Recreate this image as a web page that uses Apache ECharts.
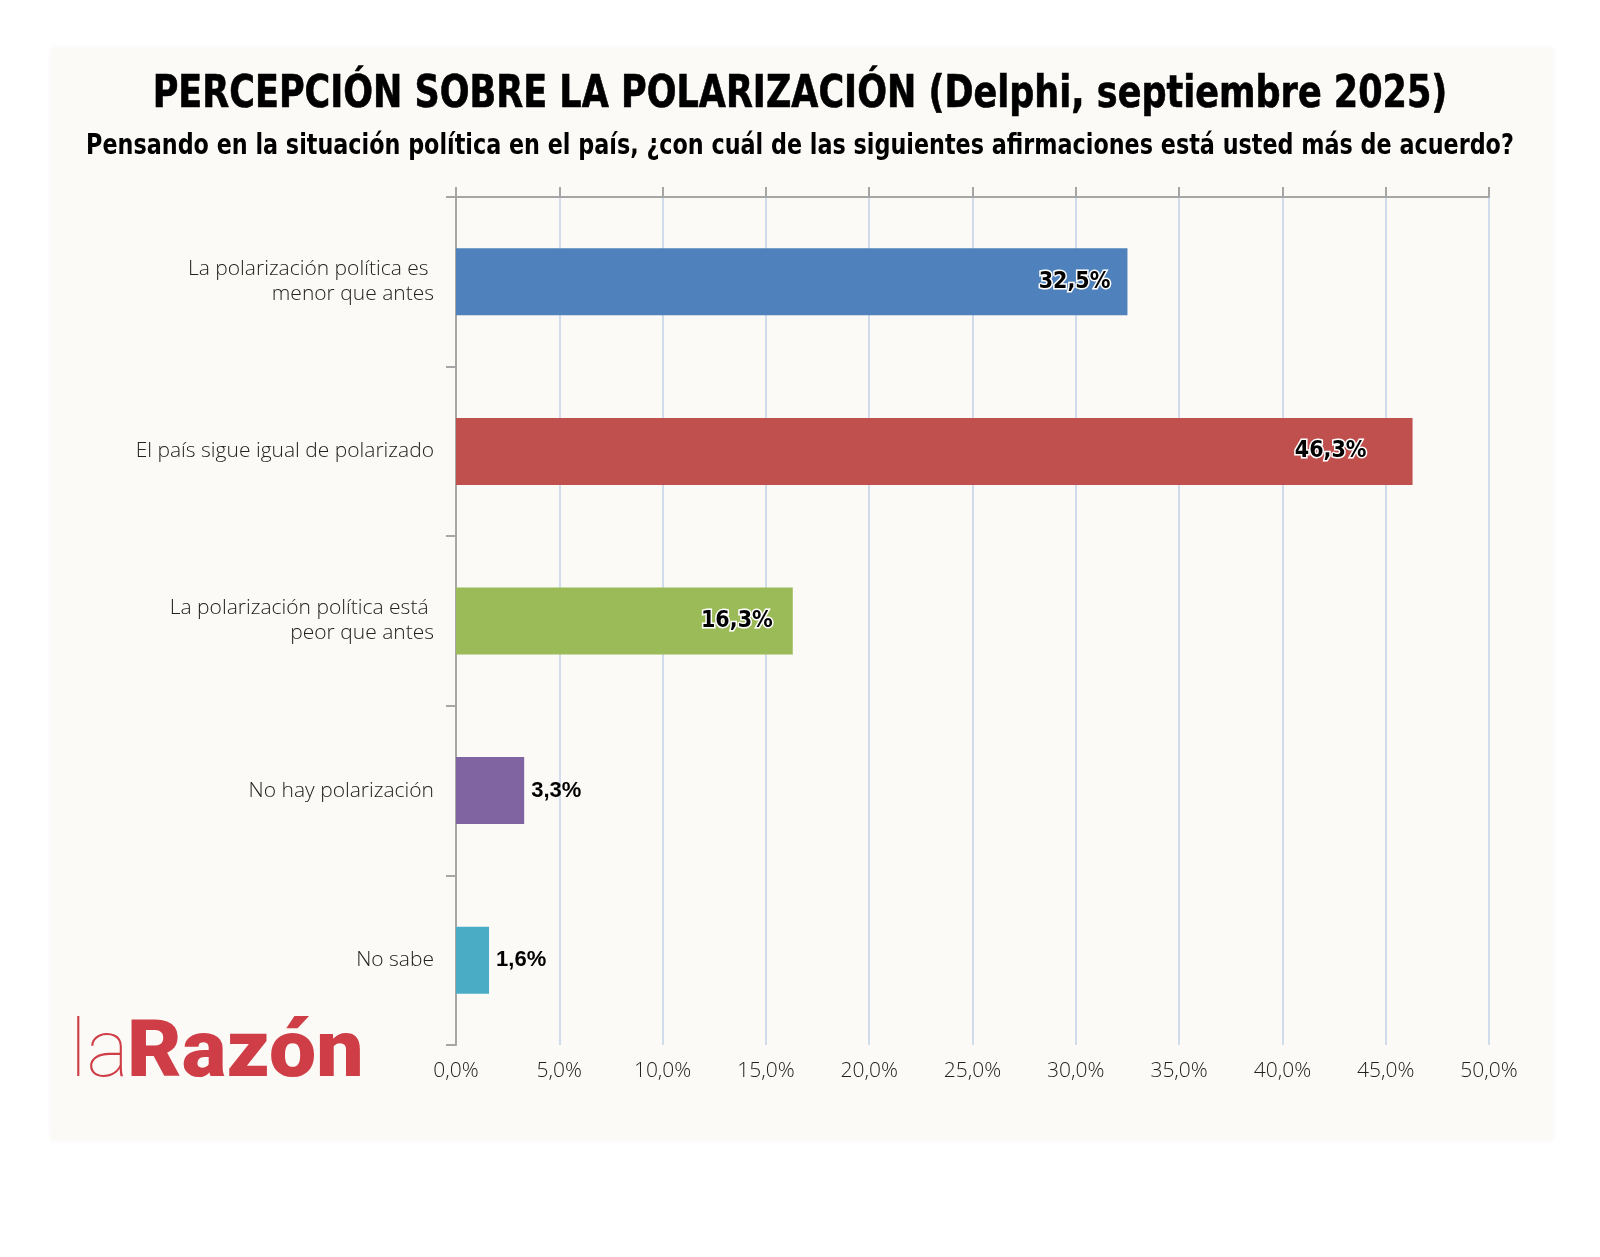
<!DOCTYPE html>
<html>
<head>
<meta charset="utf-8">
<script src="https://cdn.jsdelivr.net/npm/echarts@6/dist/echarts.min.js"></script>
<style>
  html, body { margin: 0; padding: 0; background: #ffffff; }
  #chart { width: 1600px; height: 1257px; }
</style>
</head>
<body>
<div id="chart"></div>
<script>
// data
const categories = [
    'La polarización política es \nmenor que antes',
    'El país sigue igual de polarizado',
    'La polarización política está \npeor que antes',
    'No hay polarización',
    'No sabe'
];
const values = [32.5, 46.3, 16.3, 3.3, 1.6];
const barColors = ['#4f81bd', '#c0504d', '#9bbb59', '#8064a2', '#4bacc6'];
const tickValues = [0, 5, 10, 15, 20, 25, 30, 35, 40, 45, 50];

// gap between bar end and inside label (the 46,3% one sits further in)
const insidePad = [17, 46, 20];

const pct = (v) => v.toFixed(1).replace('.', ',') + '%';

const myChart = echarts.init(document.getElementById('chart'));

const lightFont = '"Open Sans", Lato, sans-serif';
const boldFont = '"Liberation Sans Narrow", "DejaVu Sans Condensed", Roboto, sans-serif';

let option = {
    backgroundColor: '#ffffff',
    animation: false,
    graphic: [
        {
            type: 'rect',
            z: -10,
            shape: { x: 51, y: 48, width: 1502, height: 1092 },
            style: { fill: '#fbfaf7', shadowBlur: 6, shadowColor: 'rgba(0,0,0,0.04)' }
        },
        {
            type: 'text',
            x: 800,
            y: 96,
            scaleX: 0.885,
            style: {
                text: 'PERCEPCIÓN SOBRE LA POLARIZACIÓN (Delphi, septiembre 2025)',
                font: 'bold 44px ' + boldFont,
                fill: '#000',
                stroke: '#000',
                lineWidth: 0.6,
                align: 'center',
                verticalAlign: 'middle'
            }
        },
        {
            type: 'text',
            x: 800,
            y: 147,
            scaleX: 0.885,
            style: {
                text: 'Pensando en la situación política en el país, ¿con cuál de las siguientes afirmaciones está usted más de acuerdo?',
                font: 'bold 28px ' + boldFont,
                fill: '#000',
                align: 'center',
                verticalAlign: 'middle'
            }
        },
        {
            type: 'text',
            x: 70,
            y: 1056,
            style: {
                text: 'la',
                font: '100 80px Roboto, Lato, sans-serif',
                fill: '#cf3e47',
                verticalAlign: 'middle'
            }
        },
        {
            type: 'text',
            x: 127,
            y: 1056,
            scaleX: 1.05,
            style: {
                text: 'Razón',
                font: '900 80px Roboto, "Liberation Sans", sans-serif',
                fill: '#cf3e47',
                verticalAlign: 'middle'
            }
        }
    ],
    grid: {
        left: 456,
        right: 111,
        top: 197,
        bottom: 212
    },
    xAxis: [
        {
            type: 'value',
            position: 'top',
            min: 0,
            max: 50,
            interval: 5,
            axisLine: { show: true, lineStyle: { color: '#a6a6a6', width: 2 } },
            axisTick: { show: true, length: 10, lineStyle: { color: '#a6a6a6', width: 2 } },
            axisLabel: { show: false },
            splitLine: { show: true, lineStyle: { color: '#d0dcec', width: 2 } }
        },
        {
            type: 'value',
            position: 'bottom',
            min: 0,
            max: 50,
            interval: 5,
            axisLine: { show: false },
            axisTick: { show: false },
            splitLine: { show: false },
            axisLabel: {
                margin: 16,
                color: '#222',
                fontSize: 21,
                fontWeight: 300,
                fontFamily: lightFont,
                formatter: (v) => pct(v)
            }
        }
    ],
    yAxis: {
        type: 'category',
        inverse: true,
        data: categories,
        axisLine: { show: true, lineStyle: { color: '#a6a6a6', width: 2 } },
        axisTick: { show: true, length: 10, lineStyle: { color: '#a6a6a6', width: 2 } },
        axisLabel: {
            margin: 22,
            color: '#222',
            fontSize: 21,
            fontWeight: 300,
            fontFamily: lightFont,
            lineHeight: 25,
            align: 'right'
        }
    },
    series: [{
        type: 'bar',
        xAxisIndex: 0,
        barWidth: 67,
        data: values.map((v, i) => {
            const inside = v > 10;
            return {
                value: v,
                itemStyle: { color: barColors[i] },
                label: inside ? {
                    position: 'insideRight',
                    distance: insidePad[i],
                    fontFamily: boldFont,
                    fontSize: 23,
                    textBorderColor: '#fff',
                    textBorderWidth: 3
                } : {
                    position: 'right',
                    distance: 7,
                    fontFamily: '"Liberation Sans", Arial, sans-serif',
                    fontSize: 22
                }
            };
        }),
        label: {
            show: true,
            color: '#000',
            fontWeight: 'bold',
            formatter: (p) => pct(p.value)
        }
    }]
};

myChart.setOption(option);
</script>
</body>
</html>
